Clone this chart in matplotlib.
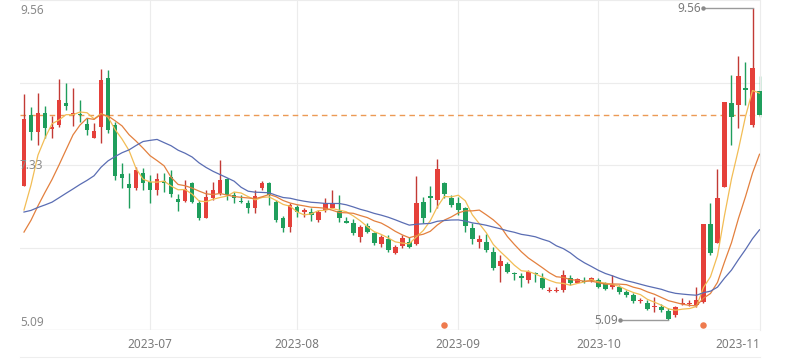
import numpy as np
import pandas as pd
import matplotlib
matplotlib.use("Agg")
import matplotlib.pyplot as plt
import matplotlib.transforms as mtransforms
from matplotlib.lines import Line2D

plt.rcParams['font.family'] = ['Noto Sans', 'DejaVu Sans']

# ---------------- data ----------------
holidays = ["2023-06-22", "2023-06-23", "2023-09-29", "2023-10-02", "2023-10-03",
            "2023-10-04", "2023-10-05", "2023-10-06"]
dates = pd.bdate_range("2023-06-05", "2023-11-09")
dates = dates[~dates.isin(pd.to_datetime(holidays))]

open_ = [7.01, 8.03, 7.78, 8.06, 7.83, 7.88, 8.20, 8.03, 8.04, 7.90,
         7.70, 7.86, 8.56, 7.88, 7.18, 7.04, 6.98, 7.20, 7.07, 6.95,
         7.08, 7.14, 6.82, 6.80, 7.05, 6.77, 6.55, 6.84, 6.91, 7.11,
         6.88, 6.80, 6.77, 6.69, 6.98, 7.05, 6.78, 6.55, 6.42, 6.71,
         6.64, 6.64, 6.52, 6.67, 6.69, 6.65, 6.51, 6.48, 6.28, 6.44,
         6.34, 6.18, 6.25, 6.05, 6.15, 6.21, 6.18, 6.78, 6.87, 6.81,
         7.05, 6.84, 6.77, 6.69, 6.41, 6.21, 6.21, 6.06, 5.86, 5.89,
         5.76, 5.72, 5.66, 5.76, 5.69, 5.50, 5.50, 5.52, 5.69, 5.62,
         5.65, 5.65, 5.66, 5.62, 5.56, 5.56, 5.49, 5.45, 5.36, 5.33,
         5.28, 5.28, 5.22, 5.16, 5.32, 5.32, 5.31, 5.35, 6.46, 6.19,
         6.99, 8.20, 8.17, 8.41, 7.88, 8.37]
close = [7.97, 7.78, 8.06, 7.84, 7.86, 8.24, 8.16, 8.06, 8.03, 7.81,
         7.80, 8.53, 7.81, 7.15, 7.12, 6.98, 7.24, 7.05, 6.95, 7.11,
         7.05, 6.89, 6.78, 6.97, 6.78, 6.55, 6.85, 6.95, 7.10, 6.88,
         6.84, 6.78, 6.69, 6.87, 7.05, 6.88, 6.52, 6.41, 6.74, 6.64,
         6.67, 6.59, 6.64, 6.77, 6.77, 6.55, 6.48, 6.34, 6.42, 6.35,
         6.19, 6.28, 6.09, 6.14, 6.26, 6.14, 6.77, 6.55, 6.84, 7.25,
         6.89, 6.74, 6.67, 6.44, 6.25, 6.25, 6.09, 5.83, 5.93, 5.78,
         5.75, 5.69, 5.78, 5.75, 5.55, 5.52, 5.52, 5.73, 5.62, 5.68,
         5.63, 5.69, 5.56, 5.53, 5.59, 5.49, 5.45, 5.36, 5.38, 5.25,
         5.29, 5.23, 5.10, 5.28, 5.33, 5.33, 5.38, 6.46, 6.05, 6.84,
         8.21, 8.00, 8.59, 8.39, 8.70, 8.03]
high = [8.33, 8.14, 8.34, 8.16, 8.01, 8.54, 8.49, 8.41, 8.24, 7.98,
        7.91, 8.69, 8.67, 7.93, 7.34, 7.20, 7.28, 7.27, 7.17, 7.20,
        7.20, 7.24, 6.89, 7.10, 7.07, 6.81, 6.95, 7.07, 7.38, 7.12,
        6.92, 6.88, 6.81, 6.95, 7.08, 7.07, 6.81, 6.58, 6.77, 6.74,
        6.69, 6.69, 6.67, 6.84, 6.95, 6.88, 6.57, 6.54, 6.45, 6.48,
        6.35, 6.31, 6.31, 6.16, 6.31, 6.28, 7.15, 6.85, 7.01, 7.40,
        7.07, 6.88, 6.85, 6.71, 6.48, 6.31, 6.32, 6.14, 6.02, 5.92,
        5.78, 5.76, 5.81, 5.78, 5.76, 5.56, 5.56, 5.81, 5.73, 5.69,
        5.71, 5.71, 5.69, 5.63, 5.73, 5.59, 5.52, 5.48, 5.40, 5.38,
        5.42, 5.32, 5.26, 5.29, 5.40, 5.38, 5.56, 6.46, 6.77, 7.25,
        8.21, 8.60, 8.87, 8.79, 9.56, 8.59]
low = [7.01, 7.67, 7.60, 7.70, 7.70, 7.86, 8.10, 7.87, 7.93, 7.74,
       7.70, 7.63, 7.77, 7.10, 6.98, 6.69, 6.95, 6.95, 6.77, 6.88,
       6.92, 6.85, 6.65, 6.78, 6.77, 6.52, 6.55, 6.81, 6.88, 6.81,
       6.77, 6.77, 6.62, 6.62, 6.95, 6.74, 6.49, 6.35, 6.35, 6.57,
       6.57, 6.51, 6.49, 6.64, 6.69, 6.49, 6.48, 6.31, 6.21, 6.34,
       6.16, 6.14, 6.06, 6.04, 6.12, 6.12, 6.16, 6.48, 6.64, 6.69,
       6.84, 6.71, 6.59, 6.35, 6.18, 6.12, 6.06, 5.81, 5.63, 5.76,
       5.66, 5.56, 5.62, 5.63, 5.53, 5.49, 5.49, 5.49, 5.59, 5.62,
       5.62, 5.63, 5.55, 5.52, 5.53, 5.46, 5.42, 5.33, 5.33, 5.23,
       5.20, 5.20, 5.09, 5.13, 5.31, 5.29, 5.28, 5.33, 6.02, 6.19,
       6.99, 7.60, 7.84, 8.17, 7.86, 8.00]
# closes of the sessions just before the window (needed for the moving averages)
prior_close = [7.31, 7.21, 7.12, 7.07, 6.98, 6.88, 6.81, 6.74, 6.64, 6.48,
               6.09, 5.98, 5.92, 6.02, 6.16, 5.99, 5.91, 6.62, 6.84]
ma_periods = [5, 10, 20]
ma_colors = ['#f2bd55', '#e3803e', '#5a6db3']
signal_dates = ["2023-08-30", "2023-10-30"]
y_labels = ["9.56", "7.33", "5.09"]
y_label_values = [9.56, 7.33, 5.09]

# ---------------- figure ----------------
W, H = 789, 361
fig = plt.figure(figsize=(W / 100, H / 100), dpi=100)
ax = fig.add_axes([20 / W, 31 / H, 740 / W, 330 / H])

n = len(close)
x = np.arange(n)
o = np.array(open_); c = np.array(close); hi = np.array(high); lo = np.array(low)

ax.set_xlim(-0.57, 105.07)
ax.set_ylim(4.947, 9.675)

for s in ['top', 'left', 'bottom']:
    ax.spines[s].set_visible(False)
ax.spines['right'].set_color('#ececec')
ax.spines['right'].set_linewidth(0.8)
ax.set_xticks([]); ax.set_yticks([])

# horizontal grid
for f in np.linspace(0, 1, 5):
    ax.axhline(4.947 + f * (9.675 - 4.947), color='#ececec', lw=0.8, zorder=0)
ax.axhline(4.947, color='#e3e3e3', lw=0.9, zorder=0)

# month ticks / vertical grid
months = dates.to_period('M')
first_idx = [int(np.where(months == m)[0][0]) for m in months.unique()[1:]]
month_labels = [dates[i].strftime('%Y-%m') for i in first_idx]
trans = mtransforms.blended_transform_factory(ax.transData, ax.transAxes)
for i, lab in zip(first_idx, month_labels):
    if lab != month_labels[-1]:
        ax.axvline(i, color='#ececec', lw=0.8, zorder=0)
        ax.text(i, -0.045, lab, transform=trans, ha='center', va='center',
                fontsize=8.5, color='#7a7a7a')
    else:
        ax.text(1.0, -0.045, lab, transform=ax.transAxes, ha='right', va='center',
                fontsize=8.5, color='#7a7a7a')

fig.add_artist(Line2D([20 / W, 760 / W], [1 - 357 / H] * 2, color='#eeeeee', lw=0.8))

# candles
up = c >= o
red, green = '#e5403a', '#1f9e5c'
red_w, green_w = '#c23a35', '#1f9e5c'
body_col = np.where(up, red, green)
wick_col = np.where(up, red_w, green_w)
ax.vlines(x, lo, hi, colors=wick_col, lw=1.0, zorder=2, clip_on=False)
bottom = np.minimum(o, c)
height = np.maximum(np.abs(c - o), 0.014)
ax.bar(x, height, bottom=bottom, width=0.66, color=body_col, lw=0, zorder=3, clip_on=False)

# moving averages
allc = pd.Series(prior_close + close)
for p, col in zip(ma_periods, ma_colors):
    ma = allc.rolling(p).mean().iloc[len(prior_close):].to_numpy()
    ax.plot(x, ma, color=col, lw=0.9, zorder=4)

# last close dashed line
ax.axhline(close[-1], color='#ec9a55', lw=1.0, ls=(0, (4, 3)), zorder=1.5)

# y labels
off = mtransforms.offset_copy(ax.transData, fig=fig, x=0, y=-2, units='dots')
lab_trans = mtransforms.blended_transform_factory(ax.transAxes, off)
for lab, v in zip(y_labels, y_label_values):
    ax.text(0.0, v, lab, transform=lab_trans, ha='left', va='center',
            fontsize=8.5, color='#8a8a8a', zorder=6)

# max / min markers
imax = int(np.argmax(hi)); imin = int(np.argmin(lo))
for idx, val, length in [(imax, hi[imax], 7.1), (imin, lo[imin], 6.9)]:
    ax.plot([idx - length, idx], [val, val], color='#9a9a9a', lw=1.0, zorder=5)
    ax.plot([idx - length], [val], 'o', ms=2.2, color='#8a8a8a', zorder=5)
    ax.text(idx - length - 0.25, val, f"{val:.2f}", ha='right', va='center',
            fontsize=8.5, color='#7a7a7a', zorder=6)

# signal dots
sig_idx = [int(np.where(dates == pd.Timestamp(d))[0][0]) for d in signal_dates]
ax.scatter(sig_idx, [0.016] * len(sig_idx), transform=trans, s=22, color='#ee7a4e',
           zorder=5, clip_on=False, lw=0)

fig.savefig('out.png', dpi=100)
